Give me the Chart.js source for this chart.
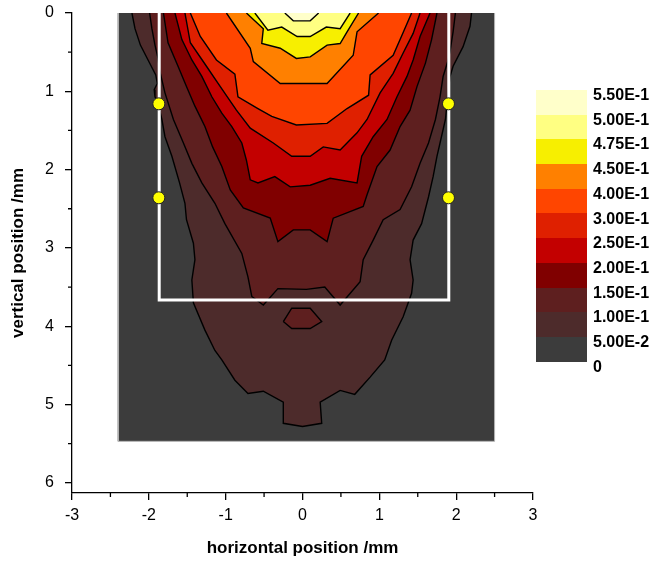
<!DOCTYPE html>
<html lang="en">
<head>
<meta charset="UTF-8">
<title>Contour map</title>
<style>
  body { margin: 0; background: #fff; font-family: "Liberation Sans", Arial, sans-serif; }
  #wrap { position: relative; width: 657px; height: 563px; }
  #bar { position: absolute; left: 536px; top: 90px; width: 51px; }
  .box { height: 24.7px; }
  .lab { position: absolute; left: 593px; font-weight: bold; font-size: 16px; line-height: 16px; color: #000; }
</style>
<script src="https://cdn.jsdelivr.net/npm/chart.js"></script>
</head>
<body>
<div id="wrap">
  <canvas id="map" width="657" height="563"></canvas>
  <div id="bar"></div>
</div>
<script>
// axis ticks
const xTicks = [-3, -2, -1, 0, 1, 2, 3];
const yTicks = [0, 1, 2, 3, 4, 5, 6];
const xMinor = [-2.5, -1.5, -0.5, 0.5, 1.5, 2.5];
const yMinor = [0.5, 1.5, 2.5, 3.5, 4.5, 5.5];

// colour scale, top to bottom
const legendLabels = ['5.50E-1', '5.00E-1', '4.75E-1', '4.50E-1', '4.00E-1', '3.00E-1',
                      '2.50E-1', '2.00E-1', '1.50E-1', '1.00E-1', '5.00E-2', '0'];
const levelColors = ['#FFFFCA', '#FFFF82', '#F7EF00', '#FF8000', '#FF4500', '#DF2000',
                     '#C30000', '#800000', '#5E1F1F', '#4D2B2B', '#3C3C3C'];

// measured field extent [x, y] in mm
const field = [[-2.4, 0], [-2.4, 5.47], [2.5, 5.47], [2.5, 0]];

// iso lines [x, y] in mm, each closed along the top edge
const c005 = [[-2.22, 0], [-2.18, 0.20], [-2.11, 0.41], [-2.00, 0.62], [-1.91, 0.79], [-1.89, 0.90],
  [-1.93, 0.98], [-1.92, 1.07], [-1.88, 1.16], [-1.83, 1.36], [-1.79, 1.58], [-1.70, 1.83],
  [-1.60, 2.17], [-1.53, 2.43], [-1.51, 2.64], [-1.42, 2.94], [-1.40, 3.15], [-1.44, 3.41],
  [-1.42, 3.70], [-1.27, 4.05], [-1.14, 4.31], [-1.05, 4.43], [-0.88, 4.69], [-0.71, 4.86],
  [-0.51, 4.83], [-0.25, 4.97], [-0.25, 5.24], [0.0, 5.28], [0.25, 5.24], [0.23, 4.97],
  [0.49, 4.82], [0.68, 4.87], [0.88, 4.65], [1.07, 4.43], [1.16, 4.18], [1.31, 3.88],
  [1.42, 3.58], [1.44, 3.41], [1.40, 3.15], [1.44, 2.90], [1.55, 2.69], [1.64, 2.35],
  [1.70, 2.09], [1.75, 1.83], [1.79, 1.66], [1.86, 1.36], [1.88, 1.17], [1.90, 0.98],
  [1.92, 0.81], [1.96, 0.68], [2.09, 0.43], [2.18, 0.17], [2.20, 0]];
const c010 = [[-1.99, 0], [-1.96, 0.20], [-1.92, 0.41], [-1.88, 0.58], [-1.86, 0.73], [-1.79, 1.02],
  [-1.68, 1.36], [-1.55, 1.66], [-1.44, 1.92], [-1.31, 2.17], [-1.14, 2.43], [-1.01, 2.69],
  [-0.79, 3.07], [-0.71, 3.37], [-0.66, 3.62], [-0.51, 3.73], [-0.32, 3.52], [0.05, 3.53],
  [0.29, 3.50], [0.49, 3.73], [0.75, 3.43], [0.79, 3.15], [0.92, 2.90], [1.05, 2.64],
  [1.27, 2.51], [1.42, 2.22], [1.53, 1.92], [1.64, 1.66], [1.73, 1.36], [1.79, 1.07],
  [1.83, 0.81], [1.89, 0.62], [1.92, 0.49], [1.96, 0.24], [1.99, 0]];
const c010b = [[-0.25, 3.94], [-0.14, 3.77], [0.10, 3.77], [0.25, 3.94], [0.10, 4.03], [-0.14, 4.03], [-0.25, 3.94]];
const c015 = [[-1.81, 0], [-1.75, 0.38], [-1.62, 0.68], [-1.51, 0.94], [-1.40, 1.19], [-1.27, 1.45],
  [-1.17, 1.71], [-1.05, 1.96], [-0.94, 2.26], [-0.77, 2.49], [-0.42, 2.62], [-0.32, 2.92],
  [-0.12, 2.77], [0.10, 2.77], [0.32, 2.92], [0.40, 2.62], [0.79, 2.47], [0.84, 2.32],
  [0.97, 1.96], [1.14, 1.75], [1.27, 1.45], [1.40, 1.24], [1.49, 0.94], [1.60, 0.64],
  [1.68, 0.34], [1.75, 0]];
const c020 = [[-1.66, 0], [-1.57, 0.34], [-1.44, 0.60], [-1.31, 0.81], [-1.18, 1.07], [-1.05, 1.28],
  [-0.92, 1.45], [-0.79, 1.66], [-0.73, 1.88], [-0.68, 2.13], [-0.58, 2.17], [-0.36, 2.09],
  [-0.16, 2.22], [0.10, 2.20], [0.36, 2.11], [0.71, 2.17], [0.77, 1.83], [0.92, 1.58],
  [1.10, 1.36], [1.23, 1.07], [1.36, 0.81], [1.44, 0.60], [1.53, 0.30], [1.66, 0]];
const c025 = [[-1.53, 0], [-1.46, 0.38], [-1.25, 0.68], [-1.07, 0.94], [-0.86, 1.24], [-0.68, 1.47],
  [-0.38, 1.66], [-0.14, 1.83], [0.10, 1.83], [0.27, 1.71], [0.49, 1.75], [0.71, 1.53],
  [0.84, 1.36], [1.01, 1.02], [1.18, 0.77], [1.31, 0.51], [1.44, 0.26], [1.53, 0]];
const c030 = [[-1.46, 0], [-1.33, 0.30], [-1.12, 0.60], [-0.88, 0.78], [-0.84, 1.07], [-0.58, 1.22],
  [-0.40, 1.32], [-0.08, 1.43], [0.32, 1.41], [0.58, 1.22], [0.86, 1.05], [0.88, 0.79],
  [1.18, 0.54], [1.31, 0.25], [1.42, 0]];
const c040 = [[-0.99, 0], [-0.68, 0.45], [-0.64, 0.62], [-0.29, 0.90], [0.32, 0.90], [0.66, 0.54],
  [0.71, 0.24], [0.99, 0]];
const c045 = [[-0.73, 0], [-0.51, 0.20], [-0.53, 0.39], [-0.29, 0.45], [-0.08, 0.58], [0.10, 0.56],
  [0.32, 0.41], [0.49, 0.39], [0.58, 0.24], [0.73, 0]];
const c0475 = [[-0.62, 0], [-0.45, 0.22], [-0.27, 0.18], [-0.07, 0.30], [0.10, 0.30], [0.31, 0.18],
  [0.49, 0.20], [0.62, 0]];
const c050 = [[-0.23, 0], [-0.12, 0.10], [0.10, 0.10], [0.21, 0]];

// sample outline and probe points
const frame = [[-1.865, 0], [-1.865, 3.666], [1.904, 3.666], [1.904, 0]];
const probes = [[-1.87, 1.16], [-1.87, 2.36], [1.90, 1.16], [1.90, 2.36]];

const toPts = arr => arr.map(([x, y]) => ({ x, y }));

function band(pts, color, order) {
  return {
    data: toPts(pts), showLine: true, fill: 'shape', backgroundColor: color,
    borderColor: '#000', borderWidth: 1.4, pointRadius: 0, tension: 0, order
  };
}

const datasets = [
  { data: toPts(field), showLine: true, fill: 'shape', backgroundColor: levelColors[10],
    borderColor: '#b5b5b5', borderWidth: 1, pointRadius: 0, order: 20 },
  band(c005, levelColors[9], 19),
  band(c010, levelColors[8], 18),
  band(c010b, levelColors[8], 17),
  band(c015, levelColors[7], 16),
  band(c020, levelColors[6], 15),
  band(c025, levelColors[5], 14),
  band(c030, levelColors[4], 13),
  band(c040, levelColors[3], 12),
  band(c045, levelColors[2], 11),
  band(c0475, levelColors[1], 10),
  band(c050, levelColors[0], 9),
  { data: toPts(frame), showLine: true, fill: false, borderColor: '#fff', borderWidth: 3,
    pointRadius: 0, order: 2 },
  { data: toPts(probes), showLine: false, pointRadius: 6, pointBackgroundColor: '#FFFF00',
    pointBorderColor: '#222', pointBorderWidth: 1, order: 1 }
];

// short minor ticks between the labelled ones
const minorTicks = {
  id: 'minorTicks',
  afterDraw(chart) {
    const { ctx, scales: { x, y } } = chart;
    ctx.save();
    ctx.strokeStyle = '#000';
    ctx.lineWidth = 1.3;
    ctx.beginPath();
    xMinor.forEach(v => {
      const px = x.getPixelForValue(v);
      ctx.moveTo(px, x.top);
      ctx.lineTo(px, x.top + 4);
    });
    yMinor.forEach(v => {
      const py = y.getPixelForValue(v);
      ctx.moveTo(y.right, py);
      ctx.lineTo(y.right - 4, py);
    });
    ctx.stroke();
    ctx.restore();
  }
};

const font = { family: '"Liberation Sans", Arial, sans-serif', size: 16 };
const titleFont = { family: '"Liberation Sans", Arial, sans-serif', size: 17, weight: 'bold' };

new Chart(document.getElementById('map'), {
  type: 'scatter',
  data: { datasets },
  plugins: [minorTicks],
  options: {
    responsive: false,
    animation: false,
    devicePixelRatio: 1,
    layout: { padding: { top: 13, right: 124, left: 0, bottom: 0 } },
    plugins: { legend: { display: false }, tooltip: { enabled: false } },
    scales: {
      x: {
        type: 'linear', position: 'bottom', min: -3, max: 3,
        afterBuildTicks: s => { s.ticks = xTicks.map(v => ({ value: v })); },
        afterFit: s => { s.height = 70; s.paddingLeft = 0; s.paddingRight = 0; },
        ticks: { font, color: '#000', padding: 6 },
        grid: { drawOnChartArea: false, color: '#000', lineWidth: 1.3, tickLength: 7 },
        border: { color: '#000', width: 1.3 },
        title: { display: true, text: 'horizontal position /mm', font: titleFont, color: '#000', padding: { top: 4, bottom: 4 } }
      },
      y: {
        type: 'linear', reverse: true, min: 0, max: 6.13,
        afterBuildTicks: s => { s.ticks = yTicks.map(v => ({ value: v })); },
        afterFit: s => { s.width = 72; s.paddingTop = 0; s.paddingBottom = 0; },
        ticks: { font, color: '#000', padding: 11 },
        grid: { drawOnChartArea: false, color: '#000', lineWidth: 1.3, tickLength: 7 },
        border: { color: '#000', width: 1.3 },
        title: { display: true, text: 'vertical position /mm', font: titleFont, color: '#000', padding: { top: 8, bottom: 4 } }
      }
    }
  }
});

// colour bar
const bar = document.getElementById('bar');
levelColors.forEach(c => {
  const d = document.createElement('div');
  d.className = 'box';
  d.style.background = c;
  bar.appendChild(d);
});
const wrap = document.getElementById('wrap');
legendLabels.forEach((t, i) => {
  const d = document.createElement('div');
  d.className = 'lab';
  d.textContent = t;
  d.style.top = (87 + 24.7 * i) + 'px';
  wrap.appendChild(d);
});
</script>
</body>
</html>
